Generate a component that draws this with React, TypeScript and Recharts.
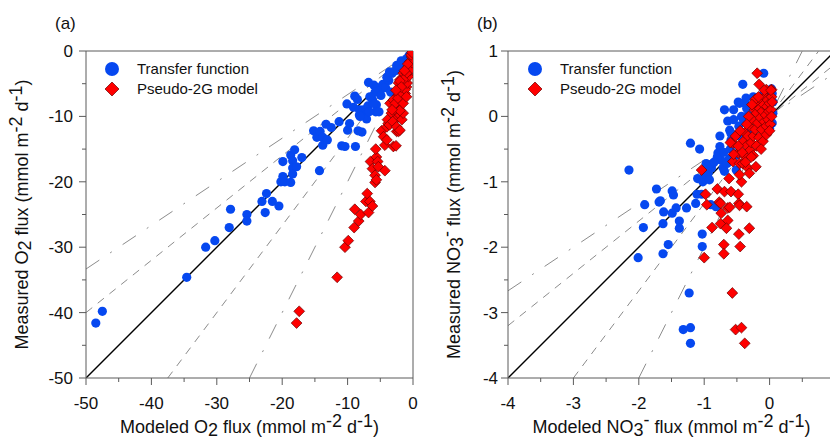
import React from 'react';
import { ScatterChart, Scatter, XAxis, YAxis, ReferenceLine, Legend } from 'recharts';

const blue = '#0648F0';
const red = '#FF0000';
const darkRed = '#6a0000';
const axisGray = '#5a5a5a';
const guideGray = '#8c8c8c';
const font = '"Liberation Sans", Arial, Helvetica, sans-serif';

const seriesNames = ['Transfer function', 'Pseudo-2G model'];

// [modeled, measured] pairs
// panel (a) O2 flux
const o2Transfer: number[][] = [
  [-48.5, -41.6], [-47.5, -39.8], [-34.6, -34.6], [-31.7, -30.0], [-30.3, -29.0], [-28.1, -27.0],
  [-27.9, -24.2], [-25.4, -25.0], [-25.4, -26.0], [-23.1, -23.0], [-22.4, -21.8], [-22.6, -24.7],
  [-21.5, -23.0], [-20.5, -23.7], [-19.9, -16.9], [-20.2, -20.0], [-19.9, -19.2], [-19.6, -20.0],
  [-18.7, -20.1], [-18.7, -15.9], [-18.4, -16.8], [-18.1, -15.1], [-18.4, -17.9], [-18.4, -18.8],
  [-17.8, -17.7], [-17.0, -16.3], [-14.3, -18.3], [-15.2, -12.2], [-14.7, -13.2], [-14.2, -12.3],
  [-13.8, -13.2], [-13.8, -14.4], [-13.3, -11.2], [-12.5, -11.7], [-13.1, -13.6], [-11.3, -10.8],
  [-10.9, -14.5], [-10.4, -14.6], [-10.1, -8.1], [-10.0, -12.1], [-9.7, -11.1], [-8.9, -6.9],
  [-8.5, -7.4], [-8.8, -14.6], [-7.8, -12.4], [-9.1, -8.6], [-8.2, -9.0], [-7.6, -9.0],
  [-7.3, -9.8], [-7.1, -10.4], [-8.2, -9.8], [-6.9, -8.4], [-6.2, -7.4], [-5.6, -8.2],
  [-5.7, -9.3], [-5.2, -9.3], [-6.7, -9.3], [-8.1, -10.0], [-6.8, -4.8], [-6.0, -5.2],
  [-5.5, -5.6], [-5.0, -6.0], [-5.8, -6.3], [-4.6, -5.1], [-4.2, -5.6], [-4.9, -6.8],
  [-3.7, -4.5], [-3.4, -6.3], [-4.0, -4.0], [-3.2, -3.4], [-2.6, -3.0], [-2.0, -2.4],
  [-1.5, -1.8], [-1.0, -1.2], [-0.6, -0.7], [-0.2, -0.3], [-2.5, -2.2], [-1.8, -1.5],
  [-3.6, -3.2], [-6.1, -8.0], [-6.6, -7.0], [-8.4, -12.2],
];

const o2Pseudo: number[][] = [
  [-17.8, -41.6], [-17.4, -39.8], [-11.6, -34.6], [-10.4, -30.0], [-9.9, -29.0], [-9.0, -27.0],
  [-8.9, -24.2], [-8.3, -26.0], [-8.0, -25.0], [-7.2, -23.0], [-7.0, -21.8], [-6.8, -24.7],
  [-6.6, -23.0], [-6.2, -23.7], [-6.5, -16.9], [-6.2, -18.0], [-5.8, -19.0], [-5.8, -20.1],
  [-5.6, -19.7], [-5.6, -16.2], [-5.7, -15.0], [-5.4, -16.9], [-5.3, -17.7], [-4.3, -18.3],
  [-4.8, -12.2], [-4.5, -13.1], [-4.3, -14.4], [-4.0, -11.6], [-4.0, -13.6], [-3.8, -11.1],
  [-3.0, -14.6], [-2.6, -14.5], [-2.5, -12.3], [-2.2, -12.3], [-3.5, -8.0], [-3.3, -9.5],
  [-3.0, -7.5], [-2.75, -9.0], [-2.5, -10.3], [-2.2, -8.5], [-2.0, -9.8], [-1.7, -10.5],
  [-1.5, -9.5], [-2.2, -6.7], [-1.7, -7.5], [-1.5, -5.7], [-1.2, -6.5], [-1.2, -4.4],
  [-1.0, -5.5], [-0.7, -3.7], [-0.7, -2.4], [-0.46, -1.6], [-0.2, -0.9], [-0.05, -0.35],
  [-2.0, -4.4], [-2.2, -4.9], [-1.5, -3.4], [-3.9, -10.5], [-3.6, -11.3], [-3.1, -10.8],
  [-2.5, -11.6], [-2.0, -12.1], [-2.7, -8.0], [-2.0, -9.1], [-1.5, -8.0], [-2.3, -7.2],
  [-1.7, -6.4], [-1.2, -5.9], [-0.9, -4.9], [-0.7, -3.9], [-0.4, -2.9], [-0.1, -1.8],
  [-1.0, -3.4], [-1.5, -4.4], [-2.0, -4.6], [-0.3, -0.6], [-0.15, -0.2], [-0.8, -2.0],
  [-1.3, -3.0], [-1.8, -5.5], [-2.6, -6.0], [-3.2, -9.0], [-1.0, -7.0],
];

// panel (b) NO3- flux
const no3Transfer: number[][] = [
  [-2.15, -0.82], [-2.01, -2.16], [-1.93, -1.70], [-1.91, -1.35], [-1.73, -1.11], [-1.69, -1.31],
  [-1.67, -1.29], [-1.62, -1.46], [-1.63, -1.64], [-1.63, -2.10], [-1.55, -1.96], [-1.49, -1.14],
  [-1.47, -1.20], [-1.49, -1.48], [-1.43, -1.40], [-1.38, -1.60], [-1.38, -1.71], [-1.27, -1.40],
  [-1.21, -0.41], [-1.23, -2.70], [-1.21, -3.23], [-1.32, -3.26], [-1.21, -3.47], [-1.13, -1.33],
  [-1.11, -1.19], [-1.07, -0.50], [-1.10, -0.95], [-1.04, -1.19], [-1.03, -1.80], [-1.03, -1.99],
  [-1.02, -1.00], [-0.99, -0.89], [-0.97, -0.72], [-0.94, -0.87], [-0.89, -0.79], [-0.87, -0.72],
  [-0.82, -1.38], [-0.79, -0.56], [-0.76, -0.30], [-0.76, -0.46], [-0.74, -0.67], [-0.71, -0.79],
  [-0.69, -0.84], [-0.69, 0.10], [-0.64, -0.07], [-0.61, -0.21], [-0.59, -0.26], [-0.59, -0.36],
  [-0.55, 0.10], [-0.51, -0.59], [-0.51, -0.82], [-0.48, 0.22], [-0.46, 0.20], [-0.47, -0.15],
  [-0.43, 0.00], [-0.41, 0.49], [-0.38, 0.20], [-0.36, 0.28], [-0.33, 0.02], [-0.31, -0.21],
  [-0.25, 0.30], [-0.20, 0.28], [-0.10, 0.33], [-0.05, 0.38], [-0.09, 0.66], [0.03, 0.42],
  [0.04, 0.35], [0.05, 0.22], [0.05, 0.05], [0.04, -0.10], [0.0, -0.18], [-0.15, 0.15],
  [-0.35, 0.12], [-0.40, -0.05], [-0.45, -0.30], [-0.55, -0.05], [-0.60, -0.50], [-0.62, -0.65],
  [-0.65, -0.72], [-0.80, -0.62], [-0.85, -0.70], [-0.92, -0.97], [-0.95, -0.78], [-0.56, -0.61],
  [-0.90, -1.35], [-0.70, -0.55],
];

const no3Pseudo: number[][] = [
  [-1.04, -0.82], [-0.98, -1.19], [-0.96, -1.35], [-1.00, -2.16], [-0.88, -1.70], [-0.80, -1.11],
  [-0.77, -1.31], [-0.75, -1.33], [-0.74, -1.48], [-0.75, -1.64], [-0.70, -1.96], [-0.70, -2.10],
  [-0.69, -1.15], [-0.64, -1.40], [-0.61, -1.39], [-0.64, -1.59], [-0.66, -1.71], [-0.62, -0.95],
  [-0.59, -1.15], [-0.57, -2.70], [-0.52, -3.26], [-0.43, -3.23], [-0.38, -3.47], [-0.48, -1.19],
  [-0.47, -1.33], [-0.46, -1.36], [-0.47, -1.80], [-0.45, -1.99], [-0.43, -1.00], [-0.46, -0.89],
  [-0.35, -1.38], [-0.31, -1.71], [-0.56, -0.41], [-0.56, -0.69], [-0.48, -0.56], [-0.46, -0.72],
  [-0.41, -0.72], [-0.38, -0.61], [-0.33, -0.79], [-0.31, -0.87], [-0.21, -0.77], [-0.19, 0.66],
  [-0.16, 0.49], [-0.05, 0.41], [0.03, 0.41],
  [-0.40, -0.38], [-0.38, -0.25], [-0.35, -0.45], [-0.33, -0.30], [-0.30, -0.52], [-0.30, -0.15],
  [-0.28, -0.40], [-0.27, -0.05], [-0.25, -0.30], [-0.25, -0.60], [-0.23, 0.10], [-0.22, -0.20],
  [-0.20, -0.45], [-0.20, 0.05], [-0.18, -0.10], [-0.18, 0.20], [-0.16, -0.32], [-0.15, 0.12],
  [-0.14, -0.02], [-0.13, 0.26], [-0.12, -0.20], [-0.11, 0.08], [-0.10, -0.38], [-0.09, 0.18],
  [-0.08, -0.08], [-0.07, 0.30], [-0.06, 0.02], [-0.05, -0.15], [-0.04, 0.15], [-0.03, 0.25],
  [-0.02, -0.05], [-0.01, 0.08], [0.0, 0.20], [0.01, -0.12], [0.02, 0.10], [0.03, 0.30],
  [0.03, 0.00], [0.04, 0.22], [-0.22, 0.26], [-0.32, 0.0], [-0.35, -0.12], [-0.42, -0.55],
  [-0.48, -0.45], [-0.52, -0.30], [-0.45, -0.22], [-0.13, -0.50], [-0.05, -0.28], [0.0, -0.22],
  [-0.27, 0.18], [-0.17, 0.30], [-0.08, 0.40], [0.02, 0.40], [-0.37, -0.70], [-0.28, -0.62],
  [-0.55, -0.58], [-0.60, -0.40],
];

const o2Ticks = [-50, -45, -40, -35, -30, -25, -20, -15, -10, -5, 0];
const no3XTicks = [-4, -3.5, -3, -2.5, -2, -1.5, -1, -0.5, 0, 0.5];
const no3YTicks = [-4, -3.5, -3, -2.5, -2, -1.5, -1, -0.5, 0, 0.5, 1];

// ratio lines through the origin (measured = k * modeled)
const guides = [
  { k: 2 / 3, dash: '16 13 2 13' },
  { k: 0.8, dash: '8 7' },
  { k: 4 / 3, dash: '8 7' },
  { k: 2, dash: '16 13 2 13' },
];

const toPts = (arr: number[][]) => arr.map(([x, y]) => ({ x, y }));

const segment = (k: number, xd: number[], yd: number[]) => {
  const xa = Math.max(xd[0], yd[0] / k);
  const xb = Math.min(xd[1], yd[1] / k);
  return [{ x: xa, y: k * xa }, { x: xb, y: k * xb }];
};

const TICK = 7;

const makeXTick = (major: (v: number) => boolean) => (props: any) => {
  const { x, y, payload } = props;
  const ay = y - TICK;
  const isMajor = major(payload.value);
  return (
    <g>
      <line x1={x} x2={x} y1={ay} y2={ay + (isMajor ? 7 : 4)} stroke={axisGray} />
      {isMajor && (
        <text x={x} y={ay + 31} textAnchor="middle" fontSize={17} fontFamily={font} fill="#111">
          {String(payload.value)}
        </text>
      )}
    </g>
  );
};

const makeYTick = (major: (v: number) => boolean, gap: number) => (props: any) => {
  const { x, y, payload } = props;
  const ax = x + TICK;
  const isMajor = major(payload.value);
  return (
    <g>
      <line x1={ax} x2={ax - (isMajor ? 7 : 4)} y1={y} y2={y} stroke={axisGray} />
      {isMajor && (
        <text x={ax - gap} y={y + 6} textAnchor="end" fontSize={17} fontFamily={font} fill="#111">
          {String(payload.value)}
        </text>
      )}
    </g>
  );
};

// text parts: [text, baseline shift]
type Part = [string, number];
const fluxTitle = (lead: string, species: Part[]): Part[] => [
  [lead + ' ', 0], ...species, [' flux (mmol m', 0], ['-2', -6], [' d', 0], ['-1', -6], [')', 0],
];
const o2Species: Part[] = [['O', 0], ['2', 3]];
const no3Species: Part[] = [['NO', 0], ['3', 3], ['-', -7]];

const renderParts = (parts: Part[]) => {
  let prev = 0;
  return parts.map(([t, s], i) => {
    const dy = s - prev;
    prev = s;
    return (
      <tspan key={i} dy={dy}>
        {t}
      </tspan>
    );
  });
};

const xTitle = (parts: Part[]) => (props: any) => {
  const vb = props.viewBox || {};
  return (
    <text x={vb.x + vb.width / 2} y={vb.y + 55} textAnchor="middle" fontSize={18} fontFamily={font} fill="#111">
      {renderParts(parts)}
    </text>
  );
};

const yTitle = (parts: Part[], tx: number, tag: string, tagX: number) => (props: any) => {
  const vb = props.viewBox || {};
  const cx = vb.x + tx;
  const cy = vb.y + vb.height / 2;
  return (
    <g>
      <text
        x={cx}
        y={cy}
        transform={`rotate(-90 ${cx} ${cy})`}
        textAnchor="middle"
        fontSize={18}
        fontFamily={font}
        fill="#111"
      >
        {renderParts(parts)}
      </text>
      <text x={vb.x + tagX} y={29} fontSize={17} fontFamily={font} fill="#111">
        {tag}
      </text>
    </g>
  );
};

const Dot = (p: any) => <circle cx={p.cx} cy={p.cy} r={4.6} fill={blue} />;
const Diamond = (p: any) => (
  <path
    d={`M${p.cx},${p.cy - 5.4}L${p.cx + 5.4},${p.cy}L${p.cx},${p.cy + 5.4}L${p.cx - 5.4},${p.cy}Z`}
    fill={red}
    stroke={darkRed}
    strokeWidth={0.7}
  />
);

const LegendBox = (props: any) => {
  const items = [...(props.payload || [])].sort(
    (a: any, b: any) => seriesNames.indexOf(a.value) - seriesNames.indexOf(b.value)
  );
  return (
    <svg width={180} height={44} style={{ display: 'block' }}>
      {items.map((it: any, i: number) => {
        const cy = 9 + i * 20;
        return (
          <g key={it.value}>
            {it.value === seriesNames[0] ? (
              <circle cx={8} cy={cy} r={7} fill={blue} />
            ) : (
              <path d={`M8,${cy - 7}L15,${cy}L8,${cy + 7}L1,${cy}Z`} fill={red} stroke={darkRed} strokeWidth={0.7} />
            )}
            <text x={33} y={cy + 5} fontSize={15} fontFamily={font} fill="#111">
              {it.value}
            </text>
          </g>
        );
      })}
    </svg>
  );
};

interface PanelProps {
  transfer: number[][];
  pseudo: number[][];
  xDomain: number[];
  yDomain: number[];
  xTicks: number[];
  yTicks: number[];
  major: (v: number) => boolean;
  yAxisWidth: number;
  tickGap: number;
  species: Part[];
  tag: string;
  yTitleX: number;
  tagX: number;
  legendLeft: number;
}

const Panel = (p: PanelProps) => (
  <ScatterChart width={420} height={440} margin={{ top: 51, right: 420 - p.yAxisWidth - 327, bottom: 0, left: 0 }}>
    <XAxis
      type="number"
      dataKey="x"
      domain={p.xDomain}
      ticks={p.xTicks}
      interval={0}
      allowDataOverflow
      height={62}
      tickSize={TICK}
      tickMargin={0}
      tickLine={false}
      axisLine={{ stroke: axisGray }}
      tick={makeXTick(p.major)}
      label={xTitle(fluxTitle('Modeled', p.species))}
    />
    <YAxis
      type="number"
      dataKey="y"
      domain={p.yDomain}
      ticks={p.yTicks}
      interval={0}
      allowDataOverflow
      width={p.yAxisWidth}
      tickSize={TICK}
      tickMargin={0}
      tickLine={false}
      axisLine={{ stroke: axisGray }}
      tick={makeYTick(p.major, p.tickGap)}
      label={yTitle(fluxTitle('Measured', p.species), p.yTitleX, p.tag, p.tagX)}
    />
    <ReferenceLine y={p.yDomain[1]} stroke={axisGray} />
    <ReferenceLine x={p.xDomain[1]} stroke={axisGray} />
    {guides.map((g, i) => (
      <ReferenceLine
        key={i}
        segment={segment(g.k, p.xDomain, p.yDomain)}
        stroke={guideGray}
        strokeDasharray={g.dash}
        ifOverflow="hidden"
      />
    ))}
    <Legend
      layout="vertical"
      align="center"
      verticalAlign="middle"
      wrapperStyle={{ left: p.legendLeft, top: 60, width: 180 }}
      content={LegendBox}
    />
    <Scatter name={seriesNames[0]} data={toPts(p.transfer)} fill={blue} shape={Dot} isAnimationActive={false} />
    <Scatter name={seriesNames[1]} data={toPts(p.pseudo)} fill={red} shape={Diamond} isAnimationActive={false} />
    <ReferenceLine
      segment={segment(1, p.xDomain, p.yDomain)}
      stroke="#000"
      strokeWidth={1.4}
      ifOverflow="hidden"
    />
  </ScatterChart>
);

export default function App() {
  return (
    <div
      style={{
        position: 'absolute',
        left: 0,
        top: 0,
        width: 830,
        height: 440,
        overflow: 'hidden',
        background: '#fff',
      }}
    >
      <div style={{ position: 'absolute', left: 0, top: 0 }}>
        <Panel
          transfer={o2Transfer}
          pseudo={o2Pseudo}
          xDomain={[-50, 0]}
          yDomain={[-50, 0]}
          xTicks={o2Ticks}
          yTicks={o2Ticks}
          major={(v) => v % 10 === 0}
          yAxisWidth={86}
          tickGap={13}
          species={o2Species}
          tag="(a)"
          yTitleX={28}
          tagX={55}
          legendLeft={104}
        />
      </div>
      <div style={{ position: 'absolute', left: 420, top: 0 }}>
        <Panel
          transfer={no3Transfer}
          pseudo={no3Pseudo}
          xDomain={[-4, 1]}
          yDomain={[-4, 1]}
          xTicks={no3XTicks}
          yTicks={no3YTicks}
          major={(v) => Number.isInteger(v)}
          yAxisWidth={88}
          tickGap={10}
          species={no3Species}
          tag="(b)"
          yTitleX={40}
          tagX={57}
          legendLeft={107}
        />
      </div>
    </div>
  );
}
